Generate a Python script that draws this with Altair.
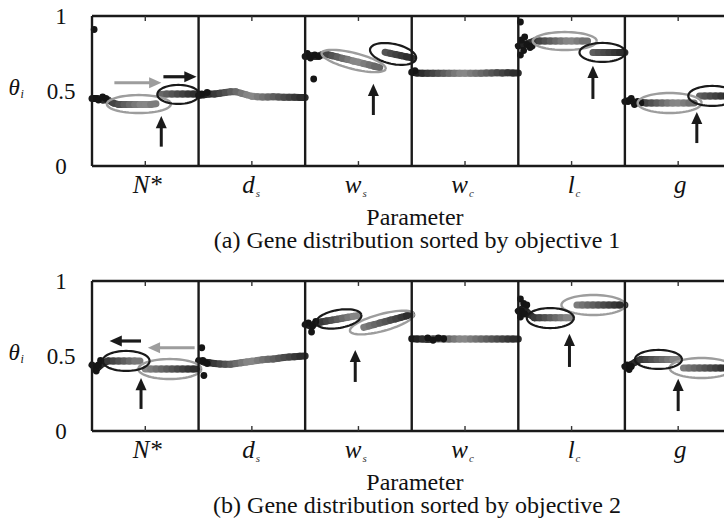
import altair as alt
import numpy as np
import pandas as pd

# ---------------- values ----------------
param_main = ["N*", "d", "w", "w", "l", "g"]
param_sub = ["", "s", "s", "c", "c", ""]
y_tick_values = [0, 0.5, 1]
y_tick_labels = ["0", "0.5", "1"]
captions = ["(a) Gene distribution sorted by objective 1",
            "(b) Gene distribution sorted by objective 2"]
x_title = "Parameter"
y_title_main = "θ"
y_title_sub = "i"

# relative rank of individuals inside each parameter panel
rank_pos = [0.0, 0.05, 0.1, 0.15, 0.2, 0.25, 0.3, 0.35, 0.4, 0.45, 0.5,
            0.55, 0.6, 0.65, 0.7, 0.75, 0.8, 0.85, 0.9, 0.95, 1.0]

# (a) sorted by objective 1 : gene value θ_i along the rank
a_N = [0.45, 0.45, 0.44, 0.44, 0.42, 0.41, 0.41, 0.41, 0.41, 0.41, 0.41,
       0.41, 0.415, 0.477, 0.48, 0.48, 0.48, 0.48, 0.48, 0.48, 0.48]
a_ds = [0.47, 0.475, 0.48, 0.48, 0.485, 0.49, 0.495, 0.495, 0.485, 0.475, 0.465,
        0.462, 0.46, 0.46, 0.462, 0.46, 0.458, 0.458, 0.458, 0.457, 0.457]
a_ws = [0.73, 0.735, 0.73, 0.74, 0.745, 0.736, 0.727, 0.718, 0.71, 0.70, 0.692,
        0.683, 0.674, 0.665, 0.656, 0.758, 0.751, 0.743, 0.736, 0.728, 0.721]
a_wc = [0.625, 0.62, 0.618, 0.618, 0.618, 0.618, 0.618, 0.618, 0.618, 0.618, 0.618,
        0.618, 0.618, 0.618, 0.62, 0.62, 0.622, 0.62, 0.622, 0.62, 0.62]
a_lc = [0.80, 0.81, 0.82, 0.833, 0.833, 0.833, 0.833, 0.833, 0.833, 0.833, 0.833,
        0.833, 0.833, 0.833, 0.757, 0.757, 0.757, 0.757, 0.757, 0.757, 0.757]
a_g = [0.43, 0.44, 0.42, 0.425, 0.42, 0.42, 0.42, 0.42, 0.42, 0.42, 0.42,
       0.42, 0.42, 0.42, 0.467, 0.467, 0.467, 0.467, 0.467, 0.467, 0.467]

# (b) sorted by objective 2
b_N = [0.44, 0.42, 0.45, 0.467, 0.467, 0.467, 0.467, 0.467, 0.467, 0.467, 0.413,
       0.413, 0.413, 0.413, 0.413, 0.413, 0.413, 0.413, 0.413, 0.413, 0.413]
b_ds = [0.47, 0.46, 0.455, 0.45, 0.447, 0.445, 0.445, 0.45, 0.455, 0.46, 0.465,
        0.47, 0.475, 0.478, 0.48, 0.485, 0.49, 0.493, 0.495, 0.498, 0.50]
b_ws = [0.71, 0.70, 0.72, 0.727, 0.733, 0.739, 0.745, 0.752, 0.758, 0.764, 0.770,
        0.691, 0.701, 0.710, 0.720, 0.729, 0.739, 0.748, 0.758, 0.767, 0.776]
b_wc = [0.615, 0.613, 0.613, 0.61, 0.613, 0.615, 0.613, 0.613, 0.613, 0.613, 0.613,
        0.613, 0.613, 0.613, 0.613, 0.613, 0.613, 0.613, 0.613, 0.613, 0.613]
b_lc = [0.80, 0.82, 0.78, 0.755, 0.755, 0.755, 0.755, 0.755, 0.755, 0.755, 0.755,
        0.84, 0.84, 0.84, 0.84, 0.84, 0.84, 0.84, 0.84, 0.84, 0.84]
b_g = [0.43, 0.44, 0.46, 0.477, 0.477, 0.477, 0.477, 0.477, 0.477, 0.477, 0.477,
       0.42, 0.42, 0.42, 0.42, 0.42, 0.42, 0.42, 0.42, 0.42, 0.42]

# scattered individuals (panel index + rank position, θ)
a_dot_x = [0.02, 0.03, 0.06, 0.10, 0.13, 1.03, 1.08, 2.02, 2.05, 2.09, 2.13, 2.08, 3.03,
           4.02, 4.03, 4.06, 4.08, 4.11, 4.13, 4.02, 4.05, 5.03, 5.06, 5.09, 5.12, 5.15]
a_dot_y = [0.91, 0.45, 0.44, 0.46, 0.45, 0.48, 0.49, 0.75, 0.72, 0.74, 0.73, 0.58, 0.635,
           0.96, 0.84, 0.86, 0.81, 0.79, 0.80, 0.74, 0.77, 0.43, 0.45, 0.41, 0.43, 0.42]
b_dot_x = [0.02, 0.04, 0.06, 0.08, 1.03, 1.05, 1.04, 1.08, 2.03, 2.07, 2.10, 2.06,
           3.15, 3.20, 3.25, 3.30, 4.02, 4.05, 4.08, 4.03, 4.02, 4.06, 5.02, 5.04, 5.06]
b_dot_y = [0.42, 0.40, 0.44, 0.47, 0.555, 0.37, 0.47, 0.45, 0.72, 0.70, 0.73, 0.66,
           0.62, 0.605, 0.62, 0.615, 0.88, 0.85, 0.84, 0.80, 0.76, 0.78, 0.44, 0.41, 0.43]

# ellipse annotations: centre (x, θ), half axes (px), tilt (deg)
a_dark_cx = [0.81, 2.825, 4.79, 5.82]
a_dark_cy = [0.477, 0.747, 0.757, 0.467]
a_dark_rx = [21, 23.5, 23, 24]
a_dark_ry = [9.5, 10, 9.5, 10]
a_dark_tilt = [0, -12, 0, 0]
a_light_cx = [0.44, 2.455, 4.436, 5.42]
a_light_cy = [0.413, 0.70, 0.833, 0.42]
a_light_rx = [32, 33, 32, 32]
a_light_ry = [9, 8, 9, 10]
a_light_tilt = [0, -14, 0, 0]

b_dark_cx = [0.32, 2.315, 4.30, 5.315]
b_dark_cy = [0.467, 0.747, 0.753, 0.477]
b_dark_rx = [23.5, 23, 23.5, 23.5]
b_dark_ry = [10, 9, 10, 9.5]
b_dark_tilt = [0, 10, 0, 0]
b_light_cx = [0.73, 2.72, 4.705, 5.72]
b_light_cy = [0.413, 0.723, 0.84, 0.42]
b_light_rx = [31.5, 33, 32, 32]
b_light_ry = [10, 8.5, 10, 10]
b_light_tilt = [0, 15, 0, 0]

# arrows
a_up_x = [0.65, 2.64, 4.70, 5.675]
a_up_tail = [0.129, 0.34, 0.447, 0.153]
a_up_head = [0.333, 0.547, 0.667, 0.36]
a_right_dark = {"x0": [0.67], "x1": [0.98], "y": [0.595]}
a_right_light = {"x0": [0.21], "x1": [0.65], "y": [0.555]}

b_up_x = [0.46, 2.47, 4.48, 5.50]
b_up_tail = [0.147, 0.327, 0.427, 0.133]
b_up_head = [0.353, 0.54, 0.647, 0.347]
b_left_dark = {"x0": [0.46], "x1": [0.166], "y": [0.60]}
b_left_light = {"x0": [0.963], "x1": [0.525], "y": [0.555]}

# ---------------- layout / style ----------------
PANEL_H = 150            # px height of one row of panels
ROW_GAP = 115            # px between the two rows
W = 632
XMAX = 5.93
PXU = W / XMAX
PYU = PANEL_H
OFF_B = -(PANEL_H + ROW_GAP) / PANEL_H   # vertical offset of row (b) in θ units
H = 2 * PANEL_H + ROW_GAP
SERIF = "Liberation Serif, Times New Roman, Times, DejaVu Serif, serif"
DARK = "#1a1a1a"
LIGHT = "#9d9d9d"

xs = alt.Scale(domain=[0, XMAX], nice=False, zero=False)
ys = alt.Scale(domain=[OFF_B, 1], nice=False, zero=False)


def X(f="x"):
    return alt.X(f"{f}:Q", scale=xs, axis=None)


def Y(f="y"):
    return alt.Y(f"{f}:Q", scale=ys, axis=None)


def band_df(series, off):
    rows = []
    for p, vals in enumerate(series):
        for i in range(len(rank_pos) - 1):
            if abs(vals[i + 1] - vals[i]) > 0.045:
                continue  # jump between two groups: no connecting stroke
            rows.append({"x": p + rank_pos[i], "y": vals[i] + off,
                         "x2": p + rank_pos[i + 1], "y2": vals[i + 1] + off,
                         "shade": (rank_pos[i] + rank_pos[i + 1]) / 2})
    return pd.DataFrame(rows)


def ellipse_df(cx, cy, rx, ry, tilt, off):
    t = np.linspace(0, 2 * np.pi, 61)
    rows = []
    for k in range(len(cx)):
        th = np.radians(tilt[k])
        dx = rx[k] * np.cos(t) * np.cos(th) - ry[k] * np.sin(t) * np.sin(th)
        dy = rx[k] * np.cos(t) * np.sin(th) + ry[k] * np.sin(t) * np.cos(th)
        for j in range(len(t)):
            rows.append({"id": k, "o": j, "x": cx[k] + dx[j] / PXU,
                         "y": cy[k] + off + dy[j] / PYU})
    return pd.DataFrame(rows)


UP = "M0,-1L0.9,1L-0.9,1Z"
RIGHT = "M1,0L-1,-0.9L-1,0.9Z"
LEFT = "M-1,0L1,-0.9L1,0.9Z"


def up_arrows(xv, tail, head, off):
    df = pd.DataFrame({"x": xv, "y0": tail, "y1": head})
    df["y0"] = df["y0"] + off
    df["y1"] = df["y1"] + off
    df["ys"] = df["y1"] - 8 / PYU
    shaft = alt.Chart(df).mark_rule(color=DARK, strokeWidth=3).encode(
        x=X(), y=Y("y0"), y2="ys:Q")
    tip = alt.Chart(df).mark_point(shape=UP, size=150, filled=True, opacity=1,
                                   color=DARK, yOffset=6).encode(x=X(), y=Y("y1"))
    return [shaft, tip]


def h_arrow(spec, color, direction, off):
    df = pd.DataFrame(spec)
    df["y"] = df["y"] + off
    sign = 1 if direction == "right" else -1
    df["xs"] = df["x1"] - sign * 8 / PXU
    shaft = alt.Chart(df).mark_rule(color=color, strokeWidth=3.2).encode(
        x=X("x0"), x2="xs:Q", y=Y())
    tip = alt.Chart(df).mark_point(shape=RIGHT if direction == "right" else LEFT,
                                   size=150, filled=True, opacity=1, color=color,
                                   xOffset=-6 * sign).encode(x=X("x1"), y=Y())
    return [shaft, tip]


def text_layer(x, y, t, **kw):
    return alt.Chart(pd.DataFrame({"x": [x], "y": [y], "t": [t]})).mark_text(
        font=SERIF, color="#111", baseline="alphabetic", **kw).encode(
        x=X(), y=Y(), text="t:N")


def make_row(series, dot_x, dot_y, dark_e, light_e, ups, harrows, caption, off):
    layers = []
    # gene bands
    layers.append(alt.Chart(band_df(series, off)).mark_rule(strokeWidth=7, strokeCap="round").encode(
        x=X(), y=Y(), x2="x2:Q", y2="y2:Q",
        color=alt.Color("shade:Q", legend=None,
                        scale=alt.Scale(domain=[0, 0.5, 1],
                                        range=["#121212", "#8c8c8c", "#2a2a2a"]))))
    # scattered dark individuals
    layers.append(alt.Chart(pd.DataFrame({"x": dot_x, "y": [v + off for v in dot_y]})).mark_circle(
        size=46, color="#151515", opacity=1).encode(x=X(), y=Y()))
    # ellipses
    layers.append(alt.Chart(ellipse_df(*light_e, off)).mark_line(color=LIGHT, strokeWidth=2.4).encode(
        x=X(), y=Y(), detail="id:N", order="o:Q"))
    layers.append(alt.Chart(ellipse_df(*dark_e, off)).mark_line(color=DARK, strokeWidth=2.2).encode(
        x=X(), y=Y(), detail="id:N", order="o:Q"))
    # arrows
    layers += up_arrows(*ups, off)
    for spec, col, d in harrows:
        layers += h_arrow(spec, col, d, off)
    # frame
    vdf = pd.DataFrame({"x": [0, 1, 2, 3, 4, 5], "y": [off] * 6, "y2": [1 + off] * 6})
    layers.append(alt.Chart(vdf).mark_rule(color=DARK, strokeWidth=2.4).encode(
        x=X(), y=Y(), y2="y2:Q"))
    hdf = pd.DataFrame({"x": [0, 0], "x2": [XMAX, XMAX], "y": [off, 1 + off]})
    layers.append(alt.Chart(hdf).mark_rule(color=DARK, strokeWidth=2.4).encode(
        x=X(), x2="x2:Q", y=Y()))
    centers = [i + 0.5 for i in range(6)]
    tdf = pd.DataFrame({"x": centers * 2, "y": [off] * 6 + [1 + off] * 6,
                        "y2": [0.033 + off] * 6 + [0.967 + off] * 6})
    layers.append(alt.Chart(tdf).mark_rule(color="#333", strokeWidth=1.4).encode(
        x=X(), y=Y(), y2="y2:Q"))
    # y tick labels
    ydf = pd.DataFrame({"x": [-31 / PXU] * 3, "y": [v + off for v in y_tick_values],
                        "t": y_tick_labels})
    layers.append(alt.Chart(ydf).mark_text(
        font=SERIF, fontSize=23, color="#111", align="center", baseline="middle", dy=1).encode(
        x=X(), y=Y(), text="t:N"))
    # parameter labels
    lab = pd.DataFrame({"x": centers, "main": param_main, "sub": param_sub,
                        "y": [-0.18 + off] * 6, "ys": [-0.205 + off] * 6})
    layers.append(alt.Chart(lab).transform_filter("datum.sub == ''").mark_text(
        font=SERIF, fontStyle="italic", fontSize=25, color="#111", align="center",
        baseline="alphabetic", dx=2).encode(x=X(), y=Y(), text="main:N"))
    layers.append(alt.Chart(lab).transform_filter("datum.sub != ''").mark_text(
        font=SERIF, fontStyle="italic", fontSize=25, color="#111", align="right",
        baseline="alphabetic", dx=3).encode(x=X(), y=Y(), text="main:N"))
    layers.append(alt.Chart(lab).transform_filter("datum.sub != ''").mark_text(
        font=SERIF, fontStyle="italic", fontSize=11, color="#333", align="left",
        baseline="alphabetic", dx=4).encode(x=X(), y=Y("ys"), text="sub:N"))
    # y title θ_i
    layers.append(text_layer(-0.73, 0.473 + off, y_title_main, fontStyle="italic",
                             fontSize=23, align="center"))
    layers.append(text_layer(-0.655, 0.455 + off, y_title_sub, fontStyle="italic",
                             fontSize=12, align="center"))
    # x title and caption
    layers.append(text_layer(3.03, -0.39 + off, x_title, fontSize=24, align="center"))
    layers.append(text_layer(3.05, -0.547 + off, caption, fontSize=24, align="center"))
    return layers


layers_a = make_row(
    [a_N, a_ds, a_ws, a_wc, a_lc, a_g], a_dot_x, a_dot_y,
    (a_dark_cx, a_dark_cy, a_dark_rx, a_dark_ry, a_dark_tilt),
    (a_light_cx, a_light_cy, a_light_rx, a_light_ry, a_light_tilt),
    (a_up_x, a_up_tail, a_up_head),
    [(a_right_light, LIGHT, "right"), (a_right_dark, DARK, "right")],
    captions[0], 0.0)

layers_b = make_row(
    [b_N, b_ds, b_ws, b_wc, b_lc, b_g], b_dot_x, b_dot_y,
    (b_dark_cx, b_dark_cy, b_dark_rx, b_dark_ry, b_dark_tilt),
    (b_light_cx, b_light_cy, b_light_rx, b_light_ry, b_light_tilt),
    (b_up_x, b_up_tail, b_up_head),
    [(b_left_light, LIGHT, "left"), (b_left_dark, DARK, "left")],
    captions[1], OFF_B)

chart = alt.layer(*layers_a, *layers_b).properties(
    width=W, height=H,
    autosize=alt.AutoSizeParams(type="none"),
    padding={"left": 92, "top": 16, "right": 0, "bottom": 98},
).configure_view(stroke=None)

chart.save("out.html", embed_options={"renderer": "svg", "actions": False})
